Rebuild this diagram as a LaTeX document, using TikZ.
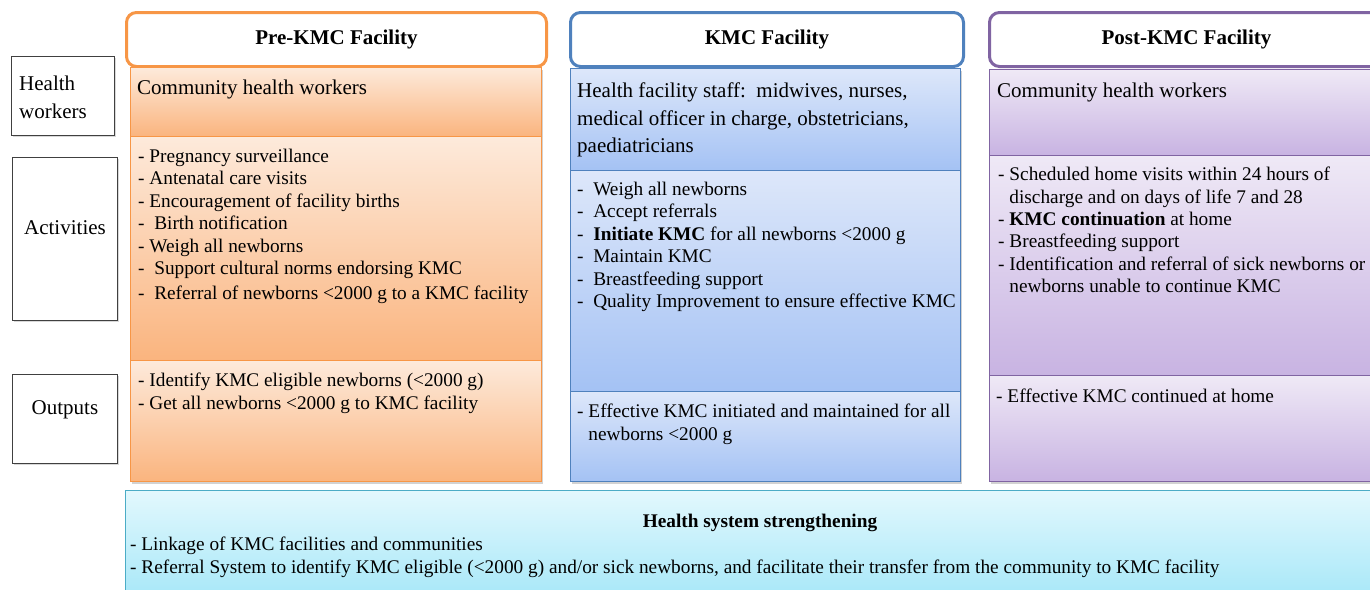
\documentclass[tikz,border=0pt]{standalone}
\usepackage{fontspec}
\setmainfont{Liberation Serif}
\definecolor{preColour}{RGB}{247,150,70}
\definecolor{preLight}{RGB}{253,234,219}
\definecolor{preDark}{RGB}{250,180,126}
\definecolor{kmcColour}{RGB}{79,129,189}
\definecolor{kmcLight}{RGB}{221,231,250}
\definecolor{kmcDark}{RGB}{164,194,244}
\definecolor{postColour}{RGB}{128,100,162}
\definecolor{postLight}{RGB}{239,233,246}
\definecolor{postDark}{RGB}{200,179,226}
\definecolor{hssColour}{RGB}{75,172,198}
\definecolor{hssLight}{RGB}{226,248,253}
\definecolor{hssDark}{RGB}{166,231,248}
\usetikzlibrary{
    positioning,
    shadows
}
\newcommand{\itemfont}{\fontsize{19.3}{22.4}\selectfont}
\newcommand{\staffont}{\fontsize{21}{27.5}\selectfont}
\newcommand{\colheadfont}{\fontsize{21}{25}\selectfont\bfseries}
\tikzset{
    kmcDiagram/.style={
        rowlabel/.style={
            rectangle,
            draw=black!75,
            line width=1pt,
            anchor=north west,
            inner sep=0pt,
            fill=white,
            drop shadow={shadow xshift=1pt, shadow yshift=-1pt, fill=black!30},
        },
        colhead/.style={
            rectangle,
            rounded corners=10pt,
            draw,
            line width=3pt,
            fill=white,
            anchor=north west,
            inner sep=0pt,
            font=\colheadfont,
        },
        panel/.style={
            rectangle,
            line width=1.2pt,
            anchor=north west,
            inner sep=0pt,
            drop shadow={shadow xshift=1pt, shadow yshift=-2.5pt, fill=black!35},
        },
        prePanel/.style={
            panel,
            draw=preColour,
            top color=preLight,
            bottom color=preDark,
        },
        kmcPanel/.style={
            panel,
            draw=kmcColour,
            top color=kmcLight,
            bottom color=kmcDark,
        },
        postPanel/.style={
            panel,
            draw=postColour,
            top color=postLight,
            bottom color=postDark,
        },
        hssPanel/.style={
            rectangle,
            line width=1.2pt,
            anchor=north west,
            inner sep=0pt,
            draw=hssColour,
            top color=hssLight,
            bottom color=hssDark,
        },
        labeltext/.style={
            inner sep=0pt,
            font=\staffont,
        },
        staff/.style={
            anchor=north west,
            align=left,
            inner sep=0pt,
            font=\staffont,
        },
        items/.style={
            anchor=north west,
            align=left,
            inner sep=0pt,
            font=\itemfont,
        },
    }
}

\begin{document}
\begin{tikzpicture}[kmcDiagram, x=1pt, y=-1pt]
    \clip (0,0) rectangle (1370,589);
    \fill[white] (0,0) rectangle (1370,589);

    \begin{scope}
        \node[rowlabel, minimum width=103pt, minimum height=79pt] (hw_box) at (11,56) {};
        \node[rowlabel, minimum width=105pt, minimum height=163pt] (act_box) at (12,157) {};
        \node[rowlabel, minimum width=105pt, minimum height=89pt] (out_box) at (12,374) {};
        \node[staff, font=\fontsize{21}{28}\selectfont] (hw_text) at (19,76) {Health\\workers};
        \node[labeltext, anchor=base] (act_text) at (65,234) {Activities};
        \node[labeltext, anchor=base] (out_text) at (65,414) {Outputs};
    \end{scope}

    \begin{scope}
        \node[colhead, draw=preColour, minimum width=420pt, minimum height=54pt] (pre_head) at (125,11) {Pre-KMC Facility};
        \node[prePanel, minimum width=411pt, minimum height=69pt] (pre_hw) at (130,67) {};
        \node[prePanel, minimum width=411pt, minimum height=224pt] (pre_act) at (130,136) {};
        \node[prePanel, minimum width=411pt, minimum height=121pt] (pre_out) at (130,360) {};
        \node[staff] (pre_hw_text) at (137,80) {Community health workers};
        \node[items] (pre_act_text) at (138,149) {- Pregnancy surveillance\\
            - Antenatal care visits\\
            - Encouragement of facility births\\
            -\ \ Birth notification\\
            - Weigh all newborns\\
            -\ \ Support cultural norms endorsing KMC\\[3pt]
            -\ \ Referral of newborns <2000 g to a KMC facility};
        \node[items] (pre_out_text) at (138,373) {- Identify KMC eligible newborns (<2000 g)\\
            - Get all newborns <2000 g to KMC facility};
    \end{scope}

    \begin{scope}
        \node[colhead, draw=kmcColour, minimum width=393pt, minimum height=54pt] (kmc_head) at (569,11) {KMC Facility};
        \node[kmcPanel, minimum width=390pt, minimum height=102pt] (kmc_hw) at (570,68) {};
        \node[kmcPanel, minimum width=390pt, minimum height=221pt] (kmc_act) at (570,170) {};
        \node[kmcPanel, minimum width=390pt, minimum height=90pt] (kmc_out) at (570,391) {};
        \node[staff] (kmc_hw_text) at (577,83) {Health facility staff:\ \ midwives, nurses,\\
            medical officer in charge, obstetricians,\\
            paediatricians};
        \node[items] (kmc_act_text) at (577,182) {-\ \ Weigh all newborns\\
            -\ \ Accept referrals\\
            -\ \ \textbf{Initiate KMC} for all newborns <2000 g\\
            -\ \ Maintain KMC\\
            -\ \ Breastfeeding support\\
            -\ \ Quality Improvement to ensure effective KMC};
        \node[items] (kmc_out_text) at (577,404) {- Effective KMC initiated and maintained for all\\
            \phantom{- }newborns <2000 g};
    \end{scope}

    \begin{scope}
        \node[colhead, draw=postColour, minimum width=394pt, minimum height=54pt] (post_head) at (988,11) {Post-KMC Facility};
        \node[postPanel, minimum width=390pt, minimum height=86pt] (post_hw) at (989,69) {};
        \node[postPanel, minimum width=390pt, minimum height=220pt] (post_act) at (989,155) {};
        \node[postPanel, minimum width=390pt, minimum height=106pt] (post_out) at (989,375) {};
        \node[staff] (post_hw_text) at (997,83) {Community health workers};
        \node[items] (post_act_text) at (998,167) {- Scheduled home visits within 24 hours of\\
            \phantom{- }discharge and on days of life 7 and 28\\
            - \textbf{KMC continuation} at home\\
            - Breastfeeding support\\
            - Identification and referral of sick newborns or\\
            \phantom{- }newborns unable to continue KMC};
        \node[items] (post_out_text) at (996,389) {- Effective KMC continued at home};
    \end{scope}

    \begin{scope}
        \node[hssPanel, minimum width=1260pt, minimum height=110pt] (hss) at (125,490) {};
        \node[items, anchor=base, font=\itemfont\bfseries] (hss_title) at (760,527) {Health system strengthening};
        \node[items] (hss_text) at (130,537) {- Linkage of KMC facilities and communities\\
            - Referral System to identify KMC eligible (<2000 g) and/or sick newborns, and facilitate their transfer from the community to KMC facility};
    \end{scope}
\end{tikzpicture}
\end{document}
